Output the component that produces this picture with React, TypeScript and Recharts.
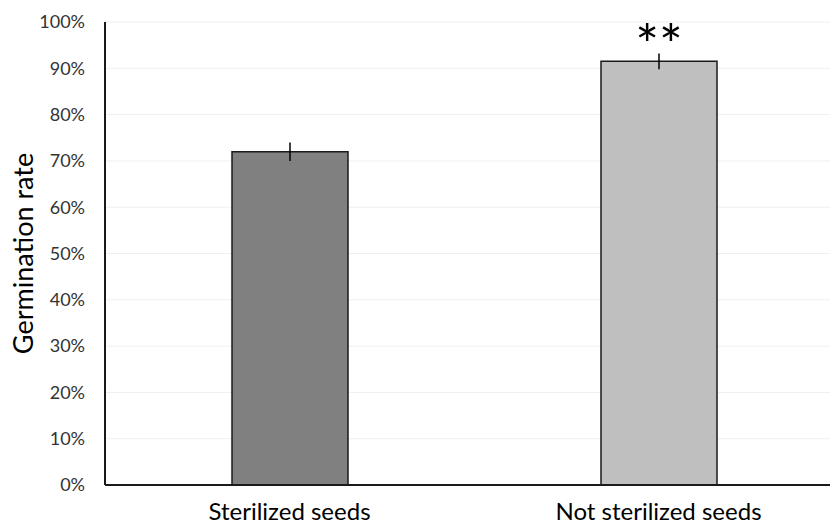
import React from 'react'
import { BarChart, Bar, Cell, CartesianGrid, XAxis, YAxis, ErrorBar, LabelList } from 'recharts'

const categories = ['Sterilized seeds', 'Not sterilized seeds']
const germinationRate = [72, 91.5]
const errorMargin = [2, 1.7]
const significance = ['', '**']
const yTicks = [0, 10, 20, 30, 40, 50, 60, 70, 80, 90, 100]

const BAR_COLORS = ['#808080', '#bfbfbf']
const FONT = 'Lato, "Open Sans", sans-serif'

const data = categories.map((name, i) => ({
  name,
  rate: germinationRate[i],
  err: errorMargin[i],
  sig: significance[i],
}))

const YLabel = (props: any) => {
  const { viewBox } = props
  const cx = 22
  const cy = viewBox.y + viewBox.height / 2
  return (
    <text
      x={cx}
      y={cy}
      transform={`rotate(-90, ${cx}, ${cy})`}
      textAnchor="middle"
      dominantBaseline="central"
      fontSize={27}
      fill="#000"
      fontFamily={FONT}
    >
      Germination rate
    </text>
  )
}

export default function App() {
  return (
    <div style={{ position: 'absolute', left: 0, top: 0, width: 830, height: 527, overflow: 'hidden', background: '#fff' }}>
      <BarChart width={843} height={527} data={data} margin={{ top: 22, right: 0, left: 0, bottom: 0 }}>
        <CartesianGrid vertical={false} stroke="#efefef" />
        <XAxis
          dataKey="name"
          height={42}
          tickLine={false}
          tickSize={0}
          tickMargin={18}
          axisLine={{ stroke: '#1a1a1a', strokeWidth: 2 }}
          tick={{ fontSize: 24, fill: '#000', fontFamily: FONT }}
        />
        <YAxis
          width={105}
          domain={[0, 100]}
          ticks={yTicks}
          tickFormatter={(v: number) => `${v}%`}
          tickLine={false}
          tickSize={0}
          tickMargin={20}
          axisLine={{ stroke: '#1a1a1a', strokeWidth: 2 }}
          tick={{ fontSize: 18, fill: '#333', fontFamily: FONT }}
          label={<YLabel />}
        />
        <Bar dataKey="rate" barSize={116} stroke="#1a1a1a" strokeWidth={1.5} isAnimationActive={false}>
          {data.map((d, i) => (
            <Cell key={d.name} fill={BAR_COLORS[i]} />
          ))}
          <ErrorBar dataKey="err" width={0} stroke="#000" strokeWidth={1.5} />
          <LabelList dataKey="sig" position="top" offset={-4} fontSize={56} fill="#000" fontFamily={FONT} />
        </Bar>
      </BarChart>
    </div>
  )
}
